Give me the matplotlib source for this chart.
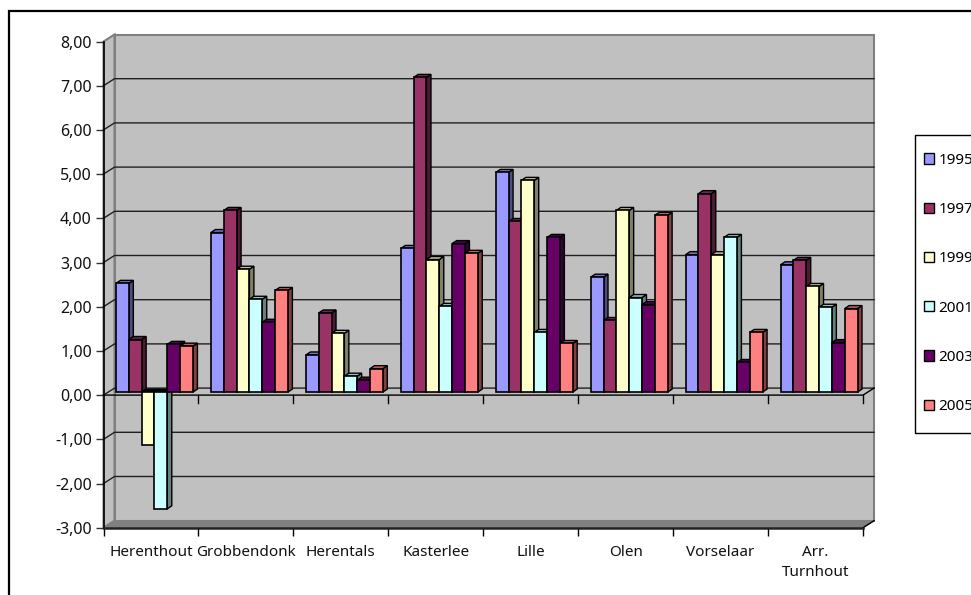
import matplotlib
matplotlib.use('Agg')
import matplotlib.pyplot as plt
from matplotlib.lines import Line2D
from matplotlib.patches import Patch, Rectangle
from matplotlib.colors import to_rgb

plt.rcParams['font.family'] = ['Noto Sans', 'DejaVu Sans']

#============================================================
# Data
#============================================================

gemeenten = ['Herenthout', 'Grobbendonk', 'Herentals', 'Kasterlee', 'Lille',
             'Olen', 'Vorselaar', 'Arr.\nTurnhout']
jaren = ['1995', '1997', '1999', '2001', '2003', '2005']
kleuren = ['#9999FF', '#993366', '#FFFFCC', '#CCFFFF', '#660066', '#FF8080']

v1995 = [2.46, 3.61, 0.84, 3.25, 4.97, 2.60, 3.11, 2.88]
v1997 = [1.19, 4.11, 1.79, 7.12, 3.86, 1.62, 4.49, 2.98]
v1999 = [-1.19, 2.78, 1.33, 3.00, 4.79, 4.11, 3.11, 2.39]
v2001 = [-2.64, 2.10, 0.36, 1.94, 1.35, 2.14, 3.50, 1.92]
v2003 = [1.08, 1.58, 0.27, 3.36, 3.50, 1.98, 0.67, 1.12]
v2005 = [1.04, 2.30, 0.53, 3.14, 1.10, 4.00, 1.35, 1.89]
reeksen = [v1995, v1997, v1999, v2001, v2003, v2005]

y_ticks = list(range(-3, 9))

#============================================================
# Figure and front plane of the 3D box
#============================================================

W, H = 971, 595
fig = plt.figure(figsize=(W / 100, H / 100), dpi=100)
x0, x1, ytop, ybot = 103.5, 863.0, 41.5, 527.7
ax = fig.add_axes([x0 / W, 1 - ybot / H, (x1 - x0) / W, (ybot - ytop) / H])
ax.set_xlim(0, len(gemeenten))
ax.set_ylim(-3, 8)
ax.patch.set_visible(False)
for s in ax.spines.values():
    s.set_visible(False)

# pixels to data units
ux = len(gemeenten) / (x1 - x0)
uy = 11 / (ybot - ytop)
wall_dx, wall_dy = 11 * ux, 7 * uy
bar_dx, bar_dy = 3.5 * ux, 3 * uy
depth_x, depth_y = 4.5 * ux, 3 * uy
n = len(gemeenten)

# chart frame, only the top and left side are inside the image
fig.add_artist(Line2D([8.5 / W, 8.5 / W, 970 / W], [0, 1 - 11 / H, 1 - 11 / H], transform=fig.transFigure,
                      color='black', linewidth=1.6, solid_joinstyle='miter'))

#============================================================
# Walls, floor, grid
#============================================================

grijs = '#808080'
ax.fill([0, wall_dx, wall_dx, 0], [-3, -3 + wall_dy, 8 + wall_dy, 8], color='#C0C0C0', ec=grijs, lw=1.5, zorder=1, clip_on=False)
ax.fill([wall_dx, n + wall_dx, n + wall_dx, wall_dx], [-3 + wall_dy, -3 + wall_dy, 8 + wall_dy, 8 + wall_dy],
        color='#C0C0C0', ec=grijs, lw=1.5, zorder=1, clip_on=False)

for v in y_ticks[1:-1]:
    ax.plot([0, wall_dx, n + wall_dx], [v, v + wall_dy, v + wall_dy], color='#202020', lw=1.0, zorder=2, clip_on=False)

ax.fill([0, n, n + wall_dx, wall_dx], [-3, -3, -3 + wall_dy, -3 + wall_dy], color=grijs, ec=grijs, zorder=3, clip_on=False)
ax.plot([n, n + wall_dx], [-3, -3 + wall_dy], color='black', lw=1.0, zorder=3, clip_on=False)

# zero plane line
ax.plot([0, n, n + wall_dx], [0, 0, wall_dy], color='black', lw=1.0, zorder=4, clip_on=False)
ax.plot([0, 0], [-3, 8], color='black', lw=1.2, zorder=4, clip_on=False)
ax.plot([0, n], [-3, -3], color='#222222', lw=1.8, zorder=4, clip_on=False)

#============================================================
# Bars, drawn from the left so each front covers the side before it
#============================================================

def tint(kleur, f):
    return tuple(c * f for c in to_rgb(kleur))

breedte = 77 / 95 / len(jaren)
z = 5
for i in range(n):
    start = i + (1 - breedte * len(jaren)) / 2 + bar_dx
    for j, reeks in enumerate(reeksen):
        v = reeks[i]
        left = start + j * breedte
        right = left + breedte
        top = max(v, 0) + bar_dy
        bottom = min(v, 0) + bar_dy
        ax.fill([right, right + depth_x, right + depth_x, right],
                [bottom, bottom + depth_y, top + depth_y, top],
                facecolor=tint(kleuren[j], 0.5), edgecolor='black', lw=1.0, zorder=z, clip_on=False)
        ax.fill([left, left + depth_x, right + depth_x, right],
                [top, top + depth_y, top + depth_y, top],
                facecolor=tint(kleuren[j], 0.75) if v > 0 else 'black', edgecolor='black', lw=1.0, zorder=z, clip_on=False)
        ax.bar(left, v, width=breedte, bottom=bar_dy, align='edge', color=kleuren[j],
               edgecolor='black', linewidth=1.2, zorder=z + 1, clip_on=False)
        z += 2

#============================================================
# Ticks and labels
#============================================================

ax.set_yticks(y_ticks)
ax.set_yticklabels([f'{v:.2f}'.replace('.', ',') for v in y_ticks], fontsize=11.5, color='#111111')
ax.tick_params(axis='y', length=5.8, width=1, pad=2.6, color='#333333')
ax.set_xticks(range(n + 1))
ax.set_xticklabels([''] * (n + 1))
ax.tick_params(axis='x', length=5.8, width=1, color='black')
for i in range(1, n + 1):
    ax.plot([i, i], [0, -8 * uy], color='black', lw=1.0, zorder=4, clip_on=False)
for i, naam in enumerate(gemeenten):
    ax.text(i + 0.5, -3 - 17 * uy, naam, ha='center', va='top', fontsize=11, color='#111111', linespacing=1.47)

#============================================================
# Legend, the box runs past the right edge of the image
#============================================================

fig.add_artist(Rectangle((914.5 / W, 1 - 433 / H), 80 / W, 298 / H, transform=fig.transFigure,
                         facecolor='white', edgecolor='black', linewidth=1.0))
handles = [Patch(facecolor=k, edgecolor='black', label=j) for j, k in zip(jaren, kleuren)]
leg = fig.legend(handles=handles, loc='upper left', bbox_to_anchor=(923.5 / W, 1 - 153 / H), fontsize=11,
                 frameon=False, handlelength=0.66, handleheight=0.66,
                 handletextpad=0.3, labelspacing=2.24, borderpad=0, borderaxespad=0)

fig.savefig('out.png', dpi=100)
